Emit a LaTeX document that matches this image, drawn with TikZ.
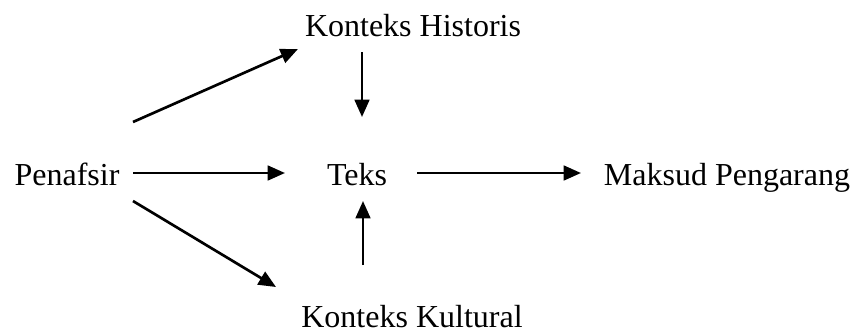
\documentclass[tikz,border=0pt]{standalone}
\usepackage{fontspec}
\setmainfont{Liberation Serif}
\usetikzlibrary{arrows.meta}
\begin{document}
\begin{tikzpicture}[x=0.75pt,y=-0.75pt,
  lbl/.style={inner sep=0pt,anchor=base,font=\fontsize{24}{28}\selectfont},
  arr/.style={line width=2pt,-{Triangle[length=13pt,width=11pt]}}]
\useasboundingbox (0,0) rectangle (853,333);
\node[lbl] (pen) at (67,185) {Penafsir};
\node[lbl] (teks) at (357,185) {Teks};
\node[lbl] (mak) at (727,185) {Maksud Pengarang};
\node[lbl] (his) at (413,36) {Konteks Historis};
\node[lbl] (kul) at (412,327) {Konteks Kultural};
\coordinate (p1) at (133,122); \coordinate (h1) at (298,49);
\coordinate (p2) at (133,173); \coordinate (t2) at (285,173);
\coordinate (p3) at (133,201); \coordinate (k3) at (276,287);
\coordinate (h4) at (362,52); \coordinate (t4) at (362,117);
\coordinate (k5) at (363,265); \coordinate (t5) at (363,201);
\coordinate (t6) at (417,173); \coordinate (m6) at (581,173);
\draw[arr] (p1) -- (h1);
\draw[arr] (p2) -- (t2);
\draw[arr] (p3) -- (k3);
\draw[arr] (h4) -- (t4);
\draw[arr] (k5) -- (t5);
\draw[arr] (t6) -- (m6);
\end{tikzpicture}
\end{document}
